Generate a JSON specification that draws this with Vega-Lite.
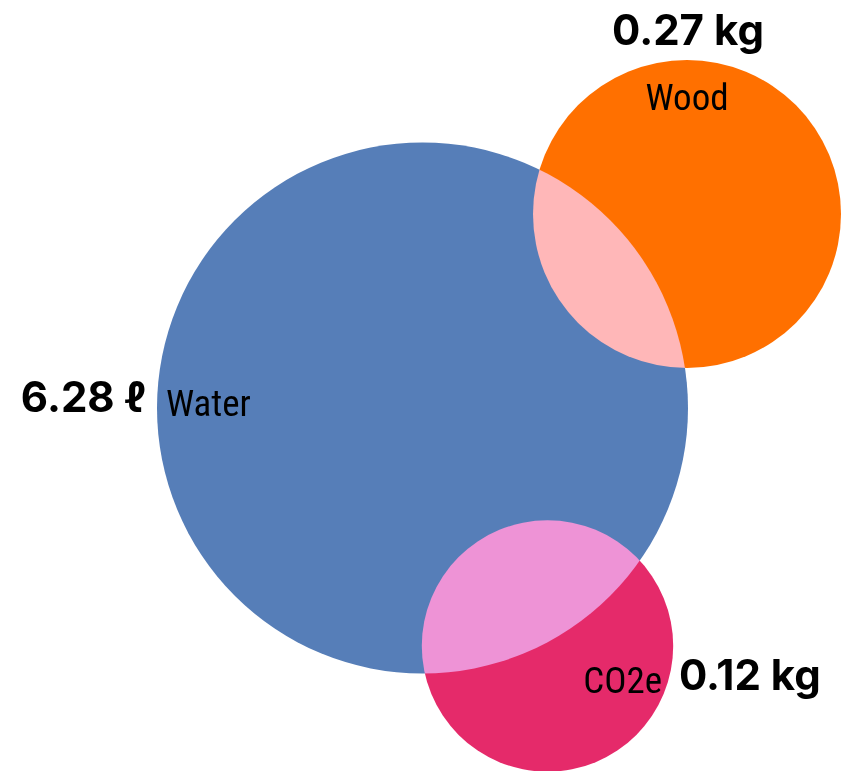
{
  "$schema": "https://vega.github.io/schema/vega-lite/v6.json",
  "width": 843,
  "height": 771,
  "padding": 0,
  "autosize": {"type": "fit", "contains": "padding"},
  "background": "white",
  "config": {"view": {"stroke": null}},
  "datasets": {
    "circles": [
      {"set": "Water", "cx": 422.5, "cy": 408, "r": 265.5},
      {"set": "Wood", "cx": 687, "cy": 214, "r": 154},
      {"set": "CO2e", "cx": 547.5, "cy": 646, "r": 125.7}
    ],
    "labels": [
      {"text": "0.27 kg", "kind": "value", "align": "center", "lx": 688, "ly": 45},
      {"text": "Wood", "kind": "name", "align": "center", "lx": 687, "ly": 110},
      {"text": "6.28 ℓ", "kind": "value", "align": "right", "lx": 146, "ly": 412},
      {"text": "Water", "kind": "name", "align": "left", "lx": 166, "ly": 416},
      {"text": "CO2e", "kind": "name", "align": "right", "lx": 662, "ly": 693},
      {"text": "0.12 kg", "kind": "value", "align": "left", "lx": 679, "ly": 690}
    ]
  },
  "layer": [
    {
      "data": {"name": "circles"},
      "mark": {"type": "circle", "opacity": 1, "blend": "screen", "clip": true, "strokeWidth": 0},
      "encoding": {
        "x": {"field": "cx", "type": "quantitative", "scale": {"domain": [0, 843], "nice": false, "zero": false}, "axis": null},
        "y": {"field": "cy", "type": "quantitative", "scale": {"domain": [0, 771], "reverse": true, "nice": false, "zero": false}, "axis": null},
        "size": {"field": "r", "type": "quantitative", "scale": {"type": "pow", "exponent": 2, "domain": [0, 300], "range": [0, 360000]}, "legend": null},
        "color": {"field": "set", "type": "nominal", "scale": {"domain": ["Water", "Wood", "CO2e"], "range": ["#567EB8", "#FF7000", "#E52A6A"]}, "legend": null}
      }
    },
    {
      "data": {"name": "labels"},
      "transform": [{"filter": "datum.kind == 'value' && datum.align == 'center'"}],
      "mark": {"type": "text", "align": "center", "baseline": "alphabetic", "font": "Inter, Liberation Sans", "fontWeight": "bold", "fontSize": 42, "color": "black"},
      "encoding": {
        "x": {"field": "lx", "type": "quantitative"},
        "y": {"field": "ly", "type": "quantitative"},
        "text": {"field": "text"}
      }
    },
    {
      "data": {"name": "labels"},
      "transform": [{"filter": "datum.kind == 'value' && datum.align == 'right'"}],
      "mark": {"type": "text", "align": "right", "baseline": "alphabetic", "font": "Inter, Liberation Sans", "fontWeight": "bold", "fontSize": 42, "color": "black"},
      "encoding": {
        "x": {"field": "lx", "type": "quantitative"},
        "y": {"field": "ly", "type": "quantitative"},
        "text": {"field": "text"}
      }
    },
    {
      "data": {"name": "labels"},
      "transform": [{"filter": "datum.kind == 'value' && datum.align == 'left'"}],
      "mark": {"type": "text", "align": "left", "baseline": "alphabetic", "font": "Inter, Liberation Sans", "fontWeight": "bold", "fontSize": 42, "color": "black"},
      "encoding": {
        "x": {"field": "lx", "type": "quantitative"},
        "y": {"field": "ly", "type": "quantitative"},
        "text": {"field": "text"}
      }
    },
    {
      "data": {"name": "labels"},
      "transform": [{"filter": "datum.kind == 'name' && datum.align == 'center'"}],
      "mark": {"type": "text", "align": "center", "baseline": "alphabetic", "font": "Liberation Sans Narrow, Arial Narrow, Roboto Condensed, Noto Sans Condensed, Open Sans Condensed, DejaVu Sans Condensed, sans-serif", "fontSize": 37, "color": "black"},
      "encoding": {
        "x": {"field": "lx", "type": "quantitative"},
        "y": {"field": "ly", "type": "quantitative"},
        "text": {"field": "text"}
      }
    },
    {
      "data": {"name": "labels"},
      "transform": [{"filter": "datum.kind == 'name' && datum.align == 'right'"}],
      "mark": {"type": "text", "align": "right", "baseline": "alphabetic", "font": "Liberation Sans Narrow, Arial Narrow, Roboto Condensed, Noto Sans Condensed, Open Sans Condensed, DejaVu Sans Condensed, sans-serif", "fontSize": 37, "color": "black"},
      "encoding": {
        "x": {"field": "lx", "type": "quantitative"},
        "y": {"field": "ly", "type": "quantitative"},
        "text": {"field": "text"}
      }
    },
    {
      "data": {"name": "labels"},
      "transform": [{"filter": "datum.kind == 'name' && datum.align == 'left'"}],
      "mark": {"type": "text", "align": "left", "baseline": "alphabetic", "font": "Liberation Sans Narrow, Arial Narrow, Roboto Condensed, Noto Sans Condensed, Open Sans Condensed, DejaVu Sans Condensed, sans-serif", "fontSize": 37, "color": "black"},
      "encoding": {
        "x": {"field": "lx", "type": "quantitative"},
        "y": {"field": "ly", "type": "quantitative"},
        "text": {"field": "text"}
      }
    }
  ]
}
